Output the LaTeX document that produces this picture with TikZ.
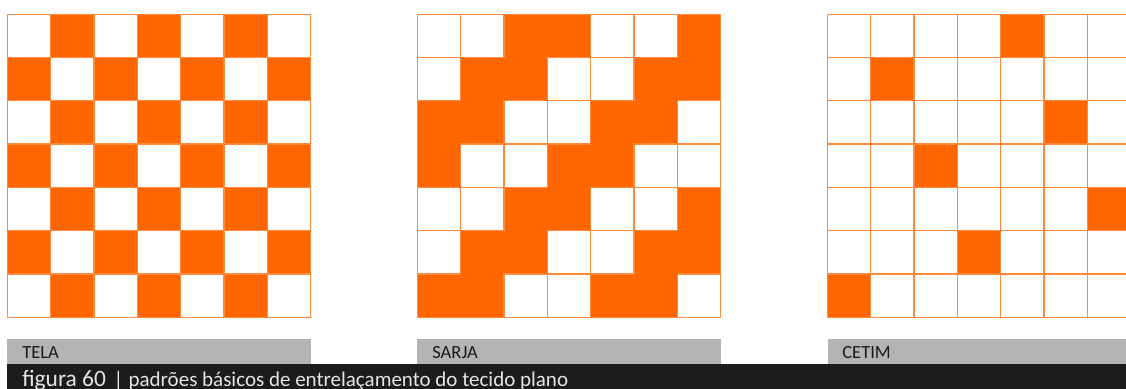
\documentclass[tikz,border=0pt]{standalone}
\usepackage{fontspec}
\setmainfont{Carlito}
\definecolor{weavec}{RGB}{255,102,0}
\definecolor{gridc}{RGB}{255,138,60}
\definecolor{labelc}{RGB}{179,179,179}
\definecolor{capc}{RGB}{28,28,28}
\definecolor{textc}{RGB}{26,26,26}

\begin{document}
\begin{tikzpicture}[font=\small,
  cellb/.style={fill=white,draw=gridc,line width=0.8pt},
  lbl/.style={anchor=base west,inner sep=0pt,text=textc,font=\fontsize{12.2}{14}\selectfont}]
\clip (0,0) rectangle (26.005,8.984);

%================= TELA: plain weave =================
\begin{scope}[shift={(0.173,8.657)}]
\fill[weavec] (0,0) rectangle (7,-7);
\foreach \r in {0,...,6}{\foreach \c in {0,...,6}{
  \pgfmathtruncatemacro\on{mod(\r+\c,2)}
  \ifnum\on=0 \draw[cellb] (\c,-\r) rectangle ++(1,-1); \fi}}
\draw[gridc,line width=0.8pt] (0,0) rectangle (7,-7);
\end{scope}

%================= SARJA: 2/2 twill =================
\begin{scope}[shift={(9.642,8.657)}]
\fill[weavec] (0,0) rectangle (7,-7);
\foreach \r in {0,...,6}{\foreach \c in {0,...,6}{
  \pgfmathtruncatemacro\on{mod(\r+\c,4)}
  \ifnum\on<2 \draw[cellb] (\c,-\r) rectangle ++(1,-1); \fi}}
\draw[gridc,line width=0.8pt] (0,0) rectangle (7,-7);
\end{scope}

%================= CETIM: satin, one float per row =================
\begin{scope}[shift={(19.111,8.657)}]
\fill[weavec] (0,0) rectangle (7,-7);
\foreach \r in {0,...,6}{\foreach \c in {0,...,6}{
  \pgfmathtruncatemacro\pick{mod(4*(\r+1),7)}
  \ifnum\pick=\c \else \draw[cellb] (\c,-\r) rectangle ++(1,-1); \fi}}
\draw[gridc,line width=0.8pt] (0,0) rectangle (7,-7);
\end{scope}

% --- grey name bars
\fill[labelc] (0.173,0.574) rectangle (7.173,1.151);
\fill[labelc] (9.642,0.574) rectangle (16.642,1.151);
\fill[labelc] (19.111,0.574) rectangle (26.2,1.151);
\node[lbl] (tela) at (0.508,0.693) {TELA};
\node[lbl] (sarja) at (9.977,0.693) {SARJA};
\node[lbl] (cetim) at (19.446,0.693) {CETIM};

% --- caption strip
\fill[capc] (0.162,0) rectangle (26.2,0.574);
\node[anchor=base west,inner sep=0pt,text=white!90!black] (caption) at (0.508,0.055)
  {{\fontsize{15.4}{18}\selectfont figura 60}\hspace{5pt}{\fontsize{13.8}{16}\selectfont |\hspace{3.5pt}padrões básicos de entrelaçamento do tecido plano}};
\end{tikzpicture}
\end{document}
